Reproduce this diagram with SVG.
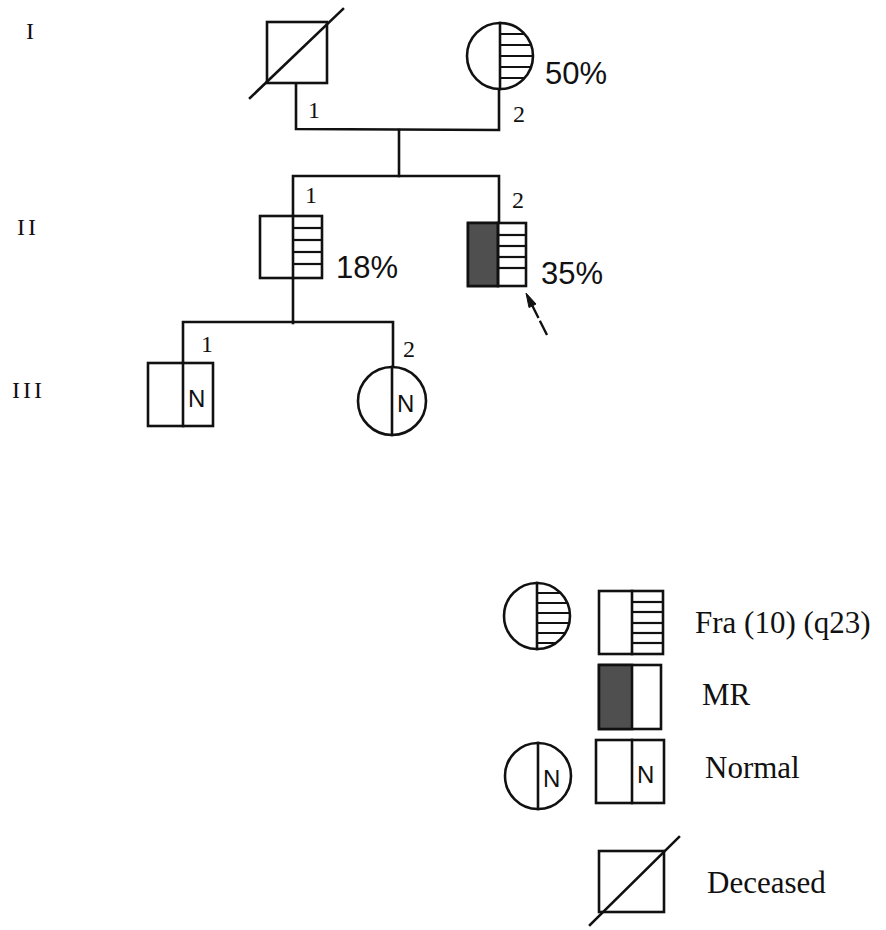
<svg xmlns="http://www.w3.org/2000/svg" width="886" height="930" viewBox="0 0 886 930">
<style>
.ln{stroke:#111;stroke-width:2.6;fill:none;stroke-linecap:square}
.sh{stroke:#111;stroke-width:2.6;fill:#fff}
.st{stroke:#111;stroke-width:2.2;fill:none}
.mr{fill:#4f4f4f;stroke:#111;stroke-width:2.6}
.gen{font-family:"Liberation Serif",serif;font-size:24px;fill:#111;letter-spacing:3px}
.num{font-family:"Liberation Serif",serif;font-size:24px;fill:#111}
.pct{font-family:"Liberation Sans",sans-serif;font-size:31px;fill:#111}
.n{font-family:"Liberation Sans",sans-serif;font-size:24px;fill:#111}
.lg{font-family:"Liberation Serif",serif;font-size:31px;fill:#111}
</style>
<defs>
<clipPath id="c12"><circle cx="500" cy="56" r="33"/></clipPath>
<clipPath id="cl1"><circle cx="537" cy="616" r="33"/></clipPath>
</defs>

<g id="gen-labels">
<text class="gen" x="26" y="39">I</text>
<text class="gen" x="17" y="235">II</text>
<text class="gen" x="12" y="398">III</text>
</g>

<g id="connectors">
<polyline class="ln" points="296,83 296,129 499,130 499,89"/>
<polyline class="ln" points="399,130 399,176"/>
<polyline class="ln" points="293,216 293,176 499,176 499,223"/>
<polyline class="ln" points="293,278 293,323"/>
<polyline class="ln" points="183,363 183,322 393,322 393,367"/>
<line x1="547" y1="335" x2="531" y2="303" stroke="#111" stroke-width="2.4" stroke-dasharray="16,3,14,3"/>
<polygon points="526,293 536,304 529,307.5" fill="#111" stroke="#111" stroke-width="1"/>
</g>

<g id="I-1">
<rect class="sh" x="267" y="22" width="60" height="61"/>
<line class="ln" x1="250" y1="98" x2="343" y2="9"/>
<text class="num" x="308" y="118">1</text>
</g>

<g id="I-2">
<circle class="sh" cx="500" cy="56" r="33"/>
<g clip-path="url(#c12)">
<line class="st" x1="500" y1="34" x2="540" y2="34"/>
<line class="st" x1="500" y1="45" x2="540" y2="45"/>
<line class="st" x1="500" y1="56" x2="540" y2="56"/>
<line class="st" x1="500" y1="67" x2="540" y2="67"/>
<line class="st" x1="500" y1="78" x2="540" y2="78"/>
</g>
<line class="ln" x1="500" y1="23" x2="500" y2="89"/>
<text class="num" x="513" y="122">2</text>
<text class="pct" x="545" y="84">50%</text>
</g>

<g id="II-1">
<rect class="sh" x="260" y="216" width="62" height="62"/>
<line class="ln" x1="293" y1="216" x2="293" y2="278"/>
<line class="st" x1="293" y1="228" x2="322" y2="228"/>
<line class="st" x1="293" y1="240" x2="322" y2="240"/>
<line class="st" x1="293" y1="252" x2="322" y2="252"/>
<line class="st" x1="293" y1="264" x2="322" y2="264"/>
<text class="num" x="305" y="203">1</text>
<text class="pct" x="336" y="278">18%</text>
</g>

<g id="II-2">
<rect class="sh" x="468" y="223" width="58" height="63"/>
<rect class="mr" x="468" y="223" width="30" height="63"/>
<line class="ln" x1="498" y1="223" x2="498" y2="286"/>
<line class="st" x1="498" y1="235" x2="526" y2="235"/>
<line class="st" x1="498" y1="246" x2="526" y2="246"/>
<line class="st" x1="498" y1="257" x2="526" y2="257"/>
<line class="st" x1="498" y1="268" x2="526" y2="268"/>
<text class="num" x="512" y="208">2</text>
<text class="pct" x="541" y="284">35%</text>
</g>

<g id="III-1">
<rect class="sh" x="148" y="363" width="65" height="63"/>
<line class="ln" x1="183" y1="363" x2="183" y2="426"/>
<text class="n" x="188" y="407">N</text>
<text class="num" x="201" y="352">1</text>
</g>

<g id="III-2">
<circle class="sh" cx="392" cy="401" r="34"/>
<line class="ln" x1="392" y1="367" x2="392" y2="435"/>
<text class="n" x="397" y="412">N</text>
<text class="num" x="403" y="357">2</text>
</g>

<g id="legend-fra">
<circle class="sh" cx="537" cy="616" r="33"/>
<g clip-path="url(#cl1)">
<line class="st" x1="537" y1="593" x2="575" y2="593"/>
<line class="st" x1="537" y1="603" x2="575" y2="603"/>
<line class="st" x1="537" y1="613" x2="575" y2="613"/>
<line class="st" x1="537" y1="623" x2="575" y2="623"/>
<line class="st" x1="537" y1="633" x2="575" y2="633"/>
<line class="st" x1="537" y1="643" x2="575" y2="643"/>
</g>
<line class="ln" x1="537" y1="583" x2="537" y2="649"/>
<rect class="sh" x="599" y="591" width="64" height="63"/>
<line class="ln" x1="632" y1="591" x2="632" y2="654"/>
<line class="st" x1="632" y1="602" x2="663" y2="602"/>
<line class="st" x1="632" y1="612" x2="663" y2="612"/>
<line class="st" x1="632" y1="623" x2="663" y2="623"/>
<line class="st" x1="632" y1="633" x2="663" y2="633"/>
<line class="st" x1="632" y1="643" x2="663" y2="643"/>
<text class="lg" x="695" y="633">Fra (10) (q23)</text>
</g>

<g id="legend-mr">
<rect class="sh" x="599" y="665" width="62" height="64"/>
<rect class="mr" x="599" y="665" width="33" height="64"/>
<text class="lg" x="702" y="705">MR</text>
</g>

<g id="legend-normal">
<circle class="sh" cx="538" cy="776" r="33"/>
<line class="ln" x1="538" y1="743" x2="538" y2="809"/>
<text class="n" x="543" y="787">N</text>
<rect class="sh" x="596" y="740" width="68" height="63"/>
<line class="ln" x1="632" y1="740" x2="632" y2="803"/>
<text class="n" x="637" y="783">N</text>
<text class="lg" x="705" y="778">Normal</text>
</g>

<g id="legend-deceased">
<rect class="sh" x="599" y="851" width="65" height="61"/>
<line class="ln" x1="590" y1="925" x2="679" y2="837"/>
<text class="lg" x="707" y="893">Deceased</text>
</g>
</svg>
